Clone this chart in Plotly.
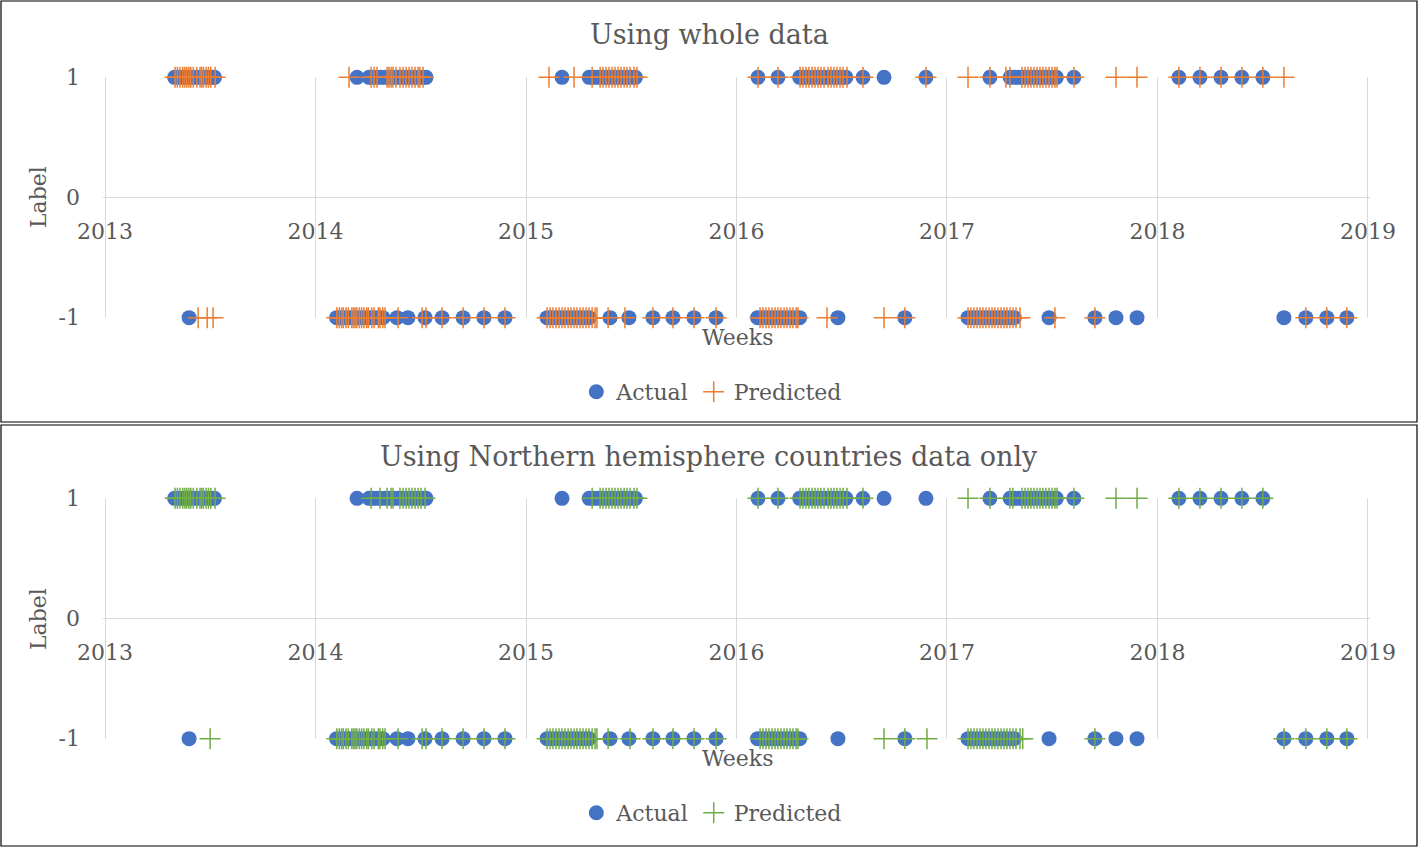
import plotly.graph_objects as go

# ---------------- data (decimal years) ----------------
year_ticks = [2013, 2014, 2015, 2016, 2017, 2018, 2019]
year_labels = ["2013", "2014", "2015", "2016", "2017", "2018", "2019"]
label_vals = [-1, 0, 1]
label_text = ["-1", "0", "1"]

# Actual, label = 1
actual_pos = [2013.33, 2013.35, 2013.37, 2013.39, 2013.41, 2013.43, 2013.45, 2013.47, 2013.49, 2013.51, 2013.52,
              2014.197, 2014.254, 2014.27, 2014.29, 2014.31, 2014.33, 2014.35, 2014.37, 2014.39, 2014.41, 2014.43,
              2014.45, 2014.47, 2014.49, 2014.51, 2014.525,
              2015.171, 2015.30, 2015.32, 2015.34, 2015.36, 2015.38, 2015.40, 2015.42, 2015.44, 2015.46, 2015.48,
              2015.50, 2015.52,
              2016.102, 2016.197, 2016.30, 2016.32, 2016.34, 2016.36, 2016.38, 2016.40, 2016.42, 2016.44, 2016.46,
              2016.48, 2016.50, 2016.52, 2016.601, 2016.701, 2016.900,
              2017.204, 2017.30, 2017.32, 2017.34, 2017.36, 2017.38, 2017.40, 2017.42, 2017.44, 2017.46, 2017.48,
              2017.50, 2017.52, 2017.603,
              2018.102, 2018.202, 2018.302, 2018.401, 2018.501]
# Actual, label = -1
actual_neg = [2013.399,
              2014.10, 2014.12, 2014.14, 2014.16, 2014.18, 2014.20, 2014.22, 2014.24, 2014.26, 2014.28, 2014.30,
              2014.32, 2014.387, 2014.439, 2014.520, 2014.601, 2014.701, 2014.800, 2014.900,
              2015.10, 2015.12, 2015.14, 2015.16, 2015.18, 2015.20, 2015.22, 2015.24, 2015.26, 2015.28, 2015.30,
              2015.399, 2015.489, 2015.603, 2015.698, 2015.798, 2015.903,
              2016.10, 2016.12, 2016.14, 2016.16, 2016.18, 2016.20, 2016.22, 2016.24, 2016.26, 2016.28, 2016.30,
              2016.482, 2016.800,
              2017.10, 2017.12, 2017.14, 2017.16, 2017.18, 2017.20, 2017.22, 2017.24, 2017.26, 2017.28, 2017.30,
              2017.32, 2017.485, 2017.703, 2017.803, 2017.903,
              2018.601, 2018.705, 2018.805, 2018.900]

# Predicted (whole data), label = 1
pred_whole_pos = [2013.3325, 2013.3435, 2013.356, 2013.369, 2013.379, 2013.388, 2013.398, 2013.407, 2013.419,
                  2013.436, 2013.451, 2013.459, 2013.467, 2013.480, 2013.491, 2013.502, 2013.5226,
                  2014.159, 2014.264, 2014.278, 2014.292, 2014.340, 2014.349, 2014.359, 2014.368, 2014.382,
                  2014.401, 2014.416, 2014.430, 2014.444, 2014.458, 2014.473, 2014.487, 2014.496, 2014.511,
                  2015.109, 2015.228, 2015.314, 2015.352, 2015.366, 2015.380, 2015.394, 2015.409, 2015.423,
                  2015.437, 2015.451, 2015.466, 2015.480, 2015.494, 2015.513, 2015.527,
                  2016.102, 2016.197, 2016.302, 2016.316, 2016.330, 2016.344, 2016.359, 2016.373, 2016.387,
                  2016.401, 2016.416, 2016.435, 2016.449, 2016.463, 2016.477, 2016.492, 2016.506, 2016.525,
                  2016.601, 2016.900,
                  2017.100, 2017.204, 2017.280, 2017.299, 2017.356, 2017.371, 2017.385, 2017.399, 2017.413,
                  2017.428, 2017.442, 2017.456, 2017.470, 2017.485, 2017.499, 2017.513, 2017.523, 2017.603,
                  2017.803, 2017.903,
                  2018.102, 2018.202, 2018.302, 2018.401, 2018.501, 2018.601]
# Predicted (whole data), label = -1
pred_whole_neg = [2013.442, 2013.485, 2013.513,
                  2014.101, 2014.113, 2014.124, 2014.132, 2014.145, 2014.156, 2014.172, 2014.180, 2014.188,
                  2014.196, 2014.208, 2014.219, 2014.230, 2014.243, 2014.251, 2014.267, 2014.278, 2014.298,
                  2014.306, 2014.319, 2014.330, 2014.392, 2014.506, 2014.525, 2014.601, 2014.701, 2014.800,
                  2014.900,
                  2015.100, 2015.114, 2015.128, 2015.143, 2015.157, 2015.171, 2015.185, 2015.200, 2015.214,
                  2015.228, 2015.242, 2015.257, 2015.271, 2015.285, 2015.299, 2015.314, 2015.328, 2015.337,
                  2015.390, 2015.470, 2015.603, 2015.698, 2015.798, 2015.903,
                  2016.112, 2016.126, 2016.140, 2016.154, 2016.169, 2016.183, 2016.197, 2016.211, 2016.226,
                  2016.240, 2016.254, 2016.268, 2016.283, 2016.292, 2016.430, 2016.701, 2016.800,
                  2017.100, 2017.114, 2017.128, 2017.143, 2017.157, 2017.171, 2017.185, 2017.200, 2017.214,
                  2017.228, 2017.242, 2017.257, 2017.271, 2017.285, 2017.299, 2017.314, 2017.328, 2017.347,
                  2017.513, 2017.703,
                  2018.705, 2018.805, 2018.900]

# Predicted (northern hemisphere), label = 1
pred_north_pos = [2013.3325, 2013.3435, 2013.356, 2013.369, 2013.379, 2013.388, 2013.398, 2013.407, 2013.419,
                  2013.436, 2013.451, 2013.459, 2013.467, 2013.480, 2013.491, 2013.502, 2013.5226,
                  2014.264, 2014.306, 2014.340, 2014.359, 2014.368, 2014.401, 2014.416, 2014.430, 2014.444,
                  2014.458, 2014.473, 2014.487, 2014.501, 2014.520,
                  2015.314, 2015.352, 2015.366, 2015.380, 2015.394, 2015.409, 2015.423, 2015.437, 2015.451,
                  2015.466, 2015.480, 2015.494, 2015.513, 2015.527,
                  2016.102, 2016.197, 2016.302, 2016.316, 2016.330, 2016.344, 2016.359, 2016.373, 2016.387,
                  2016.401, 2016.416, 2016.435, 2016.449, 2016.463, 2016.477, 2016.492, 2016.506, 2016.525,
                  2016.601,
                  2017.100, 2017.204, 2017.299, 2017.313, 2017.356, 2017.371, 2017.385, 2017.399, 2017.413,
                  2017.428, 2017.442, 2017.456, 2017.470, 2017.485, 2017.499, 2017.513, 2017.523, 2017.603,
                  2017.803, 2017.903,
                  2018.102, 2018.202, 2018.302, 2018.401, 2018.501]
# Predicted (northern hemisphere), label = -1
pred_north_neg = [2013.499,
                  2014.101, 2014.113, 2014.124, 2014.132, 2014.145, 2014.156, 2014.172, 2014.180, 2014.188,
                  2014.196, 2014.208, 2014.219, 2014.230, 2014.243, 2014.251, 2014.267, 2014.278, 2014.298,
                  2014.306, 2014.319, 2014.330, 2014.392, 2014.506, 2014.525, 2014.601, 2014.701, 2014.800,
                  2014.900,
                  2015.100, 2015.114, 2015.128, 2015.143, 2015.157, 2015.171, 2015.185, 2015.200, 2015.214,
                  2015.228, 2015.242, 2015.257, 2015.271, 2015.285, 2015.299, 2015.314, 2015.328, 2015.337,
                  2015.390, 2015.494, 2015.603, 2015.698, 2015.798, 2015.903,
                  2016.112, 2016.126, 2016.140, 2016.154, 2016.169, 2016.183, 2016.197, 2016.211, 2016.226,
                  2016.240, 2016.254, 2016.268, 2016.283, 2016.292, 2016.701, 2016.800, 2016.905,
                  2017.100, 2017.114, 2017.128, 2017.143, 2017.157, 2017.171, 2017.185, 2017.200, 2017.214,
                  2017.228, 2017.242, 2017.257, 2017.271, 2017.285, 2017.299, 2017.314, 2017.328, 2017.347,
                  2017.360, 2017.703,
                  2018.601, 2018.705, 2018.805, 2018.900]

# ---------------- styling ----------------
BLUE = "#4472C4"
ORANGE = "#ED7D31"
GREEN = "#70AD47"
TXT = "#595959"
GRID = "#D9D9D9"
FONT = "DejaVu Serif"
W, H = 1418, 847


def py(p):
    return 1 - p / H


fig = go.Figure()


def add_panel(pred_pos, pred_neg, pcolor, xa, ya, legend):
    fig.add_trace(go.Scatter(
        x=actual_pos + actual_neg,
        y=[1] * len(actual_pos) + [-1] * len(actual_neg),
        mode="markers", name="Actual",
        marker=dict(symbol="circle", size=15, color=BLUE),
        xaxis=xa, yaxis=ya, legend=legend, cliponaxis=False))
    fig.add_trace(go.Scatter(
        x=pred_pos + pred_neg,
        y=[1] * len(pred_pos) + [-1] * len(pred_neg),
        mode="markers", name="Predicted",
        marker=dict(symbol="cross-thin", size=15, color=pcolor,
                    line=dict(color=pcolor, width=1.5)),
        xaxis=xa, yaxis=ya, legend=legend, cliponaxis=False))


add_panel(pred_whole_pos, pred_whole_neg, ORANGE, "x", "y", "legend")
add_panel(pred_north_pos, pred_north_neg, GREEN, "x2", "y2", "legend2")

xdom = [103 / W, 1370 / W]
dom1 = [py(318), py(77)]
dom2 = [py(739), py(498)]

xcommon = dict(range=[2012.99, 2019.01], tickvals=year_ticks, ticktext=year_labels,
               showgrid=True, gridcolor=GRID, gridwidth=1, zeroline=False, showline=False,
               ticks="", tickfont=dict(family=FONT, size=22, color=TXT),
               ticklabelstandoff=18, domain=xdom, automargin=False)
ycommon = dict(range=[-1.003, 1.003], tickvals=label_vals, ticktext=label_text,
               showgrid=True, gridcolor=GRID, gridwidth=1, zeroline=False, showline=False,
               ticks="", tickfont=dict(family=FONT, size=22, color=TXT),
               ticklabelstandoff=22, automargin=False)

fig.update_layout(
    width=W, height=H,
    margin=dict(l=0, r=0, t=0, b=0, pad=0, autoexpand=False),
    paper_bgcolor="white", plot_bgcolor="white",
    font=dict(family=FONT, color=TXT),
    xaxis=dict(**xcommon, anchor="free", position=sum(dom1) / 2),
    yaxis=dict(**ycommon, domain=dom1, anchor="x"),
    xaxis2=dict(**xcommon, anchor="free", position=sum(dom2) / 2),
    yaxis2=dict(**ycommon, domain=dom2, anchor="x2"),
    legend=dict(orientation="h", x=0.502, xanchor="center", y=py(392), yanchor="middle",
                font=dict(family=FONT, size=22, color=TXT), bgcolor="rgba(0,0,0,0)"),
    legend2=dict(orientation="h", x=0.502, xanchor="center", y=py(813), yanchor="middle",
                 font=dict(family=FONT, size=22, color=TXT), bgcolor="rgba(0,0,0,0)"),
    showlegend=True,
)

ann = []
for title, ty, ly, wy in [("Using whole data", 35, 197, 337),
                          ("Using Northern hemisphere countries data only", 457, 619, 758)]:
    ann.append(dict(text=title, x=0.5, y=py(ty), xref="paper", yref="paper",
                    xanchor="center", yanchor="middle", showarrow=False,
                    font=dict(family=FONT, size=27, color=TXT)))
    ann.append(dict(text="Label", x=38 / W, y=py(ly), xref="paper", yref="paper",
                    xanchor="center", yanchor="middle", showarrow=False, textangle=-90,
                    font=dict(family=FONT, size=22, color=TXT)))
    ann.append(dict(text="Weeks", x=737 / W, y=py(wy), xref="paper", yref="paper",
                    xanchor="center", yanchor="middle", showarrow=False,
                    font=dict(family=FONT, size=22, color=TXT)))
fig.update_layout(annotations=ann)

fig.update_layout(shapes=[
    dict(type="rect", xref="paper", yref="paper", x0=1 / W, x1=1 - 1 / W, y0=py(422), y1=py(1),
         line=dict(color="black", width=1.2)),
    dict(type="rect", xref="paper", yref="paper", x0=1 / W, x1=1 - 1 / W, y0=py(846), y1=py(425),
         line=dict(color="black", width=1.2)),
])

fig.write_html("out.html", config={"displayModeBar": False},
               post_script="document.body.style.margin='0px';document.body.style.overflow='hidden';")
